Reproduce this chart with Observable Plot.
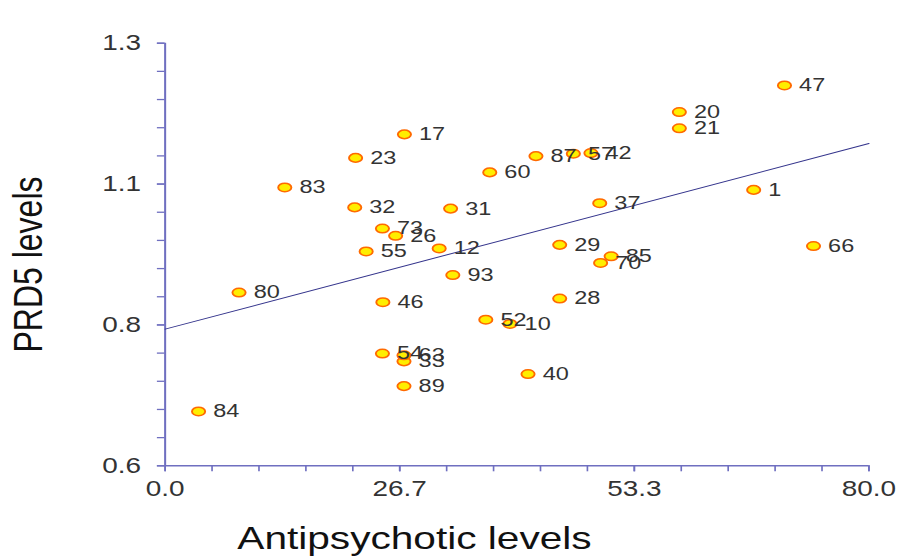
<!DOCTYPE html>
<html>
<head>
<meta charset="utf-8">
<script src="https://cdn.jsdelivr.net/npm/d3@7"></script>
<script src="https://cdn.jsdelivr.net/npm/@observablehq/plot@0.6"></script>
<style>
  html, body { margin: 0; padding: 0; background: #fff; }
  #chart svg { display: block; }
</style>
</head>
<body>
<div id="chart"></div>
<script>
// Subject ids, antipsychotic levels and PRD5 levels
const ids = [1, 10, 12, 17, 20, 21, 23, 26, 28, 29, 31, 32, 33, 37, 40, 42, 46, 47,
             52, 54, 55, 57, 60, 63, 66, 70, 73, 80, 83, 84, 85, 87, 89, 93];
const antipsychotic = [66.9, 39.2, 31.15, 27.2, 58.45, 58.45, 21.65, 26.2, 44.85, 44.85,
                       32.45, 21.55, 27.15, 49.4, 41.25, 48.4, 24.75, 70.4,
                       36.45, 24.7, 22.85, 46.4, 36.9, 27.15, 73.7, 49.5, 24.7,
                       8.4, 13.6, 3.8, 50.7, 42.15, 27.15, 32.7];
const prd5 = [1.057, 0.835, 0.960, 1.149, 1.186, 1.159, 1.110, 0.981, 0.877, 0.966,
              1.026, 1.028, 0.773, 1.035, 0.752, 1.118, 0.871, 1.230,
              0.842, 0.786, 0.955, 1.117, 1.086, 0.783, 0.964, 0.936, 0.993,
              0.887, 1.061, 0.690, 0.947, 1.113, 0.732, 0.916];

const xDomain = [0, 80];
const yDomain = [0.6, 1.3];
const xTickLabels = ["0.0", "26.7", "53.3", "80.0"];
const yTickLabels = ["0.6", "0.8", "1.1", "1.3"];

const data = ids.map((id, i) => ({id, x: antipsychotic[i], y: prd5[i]}));

// Ordinary least-squares fit, drawn across the whole x domain
const mx = d3.mean(data, d => d.x), my = d3.mean(data, d => d.y);
const slope = d3.sum(data, d => (d.x - mx) * (d.y - my)) / d3.sum(data, d => (d.x - mx) ** 2);
const intercept = my - slope * mx;
const fit = xDomain.map(x => ({x, y: intercept + slope * x}));

// Major ticks split each axis in three, minor ticks in fifteen
const split = ([a, b], n) => d3.range(n + 1).map(i => a + (b - a) * i / n);
const xMajor = split(xDomain, 3), yMajor = split(yDomain, 3);
const xMinor = split(xDomain, 15), yMinor = split(yDomain, 15);
const xLabel = new Map(xMajor.map((v, i) => [v, xTickLabels[i]]));
const yLabel = new Map(yMajor.map((v, i) => [v, yTickLabels[i]]));

// The chart is laid out on a narrower canvas and widened horizontally
const W = 914, H = 558, baseW = 720, stretch = W / baseW;
const font = "'Liberation Sans', Arial, Helvetica, sans-serif";
const axisColor = "#6f6fc0";
const textColor = "#333";

// Elliptical marker
const ellipse = {
  draw(ctx) {
    const rx = 5.2, ry = 4.3, k = 0.5523;
    ctx.moveTo(rx, 0);
    ctx.bezierCurveTo(rx, ry * k, rx * k, ry, 0, ry);
    ctx.bezierCurveTo(-rx * k, ry, -rx, ry * k, -rx, 0);
    ctx.bezierCurveTo(-rx, -ry * k, -rx * k, -ry, 0, -ry);
    ctx.bezierCurveTo(rx * k, -ry, rx, -ry * k, rx, 0);
    ctx.closePath();
  }
};

const marginLeft = 164.5 / stretch;
const marginRight = baseW - 868.3 / stretch;
const marginTop = 42.7, marginBottom = H - 465.3;

const chart = Plot.plot({
  width: baseW,
  height: H,
  marginLeft, marginRight, marginTop, marginBottom,
  style: {fontFamily: font, background: "#fff"},
  x: {domain: xDomain},
  y: {domain: yDomain},
  marks: [
    // axis lines
    Plot.ruleX([xDomain[0]], {stroke: axisColor, strokeWidth: 1.6}),
    Plot.ruleY([yDomain[0]], {stroke: axisColor, strokeWidth: 1.6}),
    // minor ticks
    Plot.axisX(xMinor, {tickSize: 6, stroke: axisColor, strokeWidth: 1.3, text: null, label: null}),
    Plot.axisY(yMinor, {tickSize: 6, stroke: axisColor, strokeWidth: 1.3, text: null, label: null}),
    // major tick labels
    Plot.axisX(xMajor, {tickSize: 6, tickPadding: 9, stroke: axisColor, strokeWidth: 1.3,
      tickFormat: d => xLabel.get(d), fontSize: 22, fill: textColor, label: null}),
    Plot.axisY(yMajor, {tickSize: 6, tickPadding: 13, stroke: axisColor, strokeWidth: 1.3,
      tickFormat: d => yLabel.get(d), fontSize: 22, fill: textColor, label: null}),
    // regression line
    Plot.line(fit, {x: "x", y: "y", stroke: "#34348c", strokeWidth: 1}),
    // points and their ids
    Plot.dot(data, {x: "x", y: "y", symbol: ellipse, fill: "#ffee00", stroke: "#ff6a00", strokeWidth: 1.5}),
    Plot.text(data, {x: "x", y: "y", text: d => String(d.id), textAnchor: "start", dx: 11.5,
      fontSize: 18.5, fill: textColor, lineAnchor: "middle"}),
    // axis titles
    Plot.text(["Antipsychotic levels"], {frameAnchor: "bottom", text: d => d, textAnchor: "middle",
      dx: 326 - (marginLeft + (baseW - marginRight)) / 2, dy: 72.5,
      fontSize: 32, fill: "#111", lineAnchor: "middle"}),
    Plot.text(["PRD5 levels"], {frameAnchor: "left", text: d => d, rotate: -90, textAnchor: "middle",
      dx: 22 - marginLeft, dy: 264 - (marginTop + (H - marginBottom)) / 2,
      fontSize: 32, fill: "#111", lineAnchor: "middle"})
  ]
});

chart.setAttribute("width", W);
chart.setAttribute("height", H);
chart.setAttribute("viewBox", `0 0 ${baseW} ${H}`);
chart.setAttribute("preserveAspectRatio", "none");
chart.style.maxWidth = "none";
chart.style.width = W + "px";
chart.style.height = H + "px";
document.getElementById("chart").appendChild(chart);
</script>
</body>
</html>
